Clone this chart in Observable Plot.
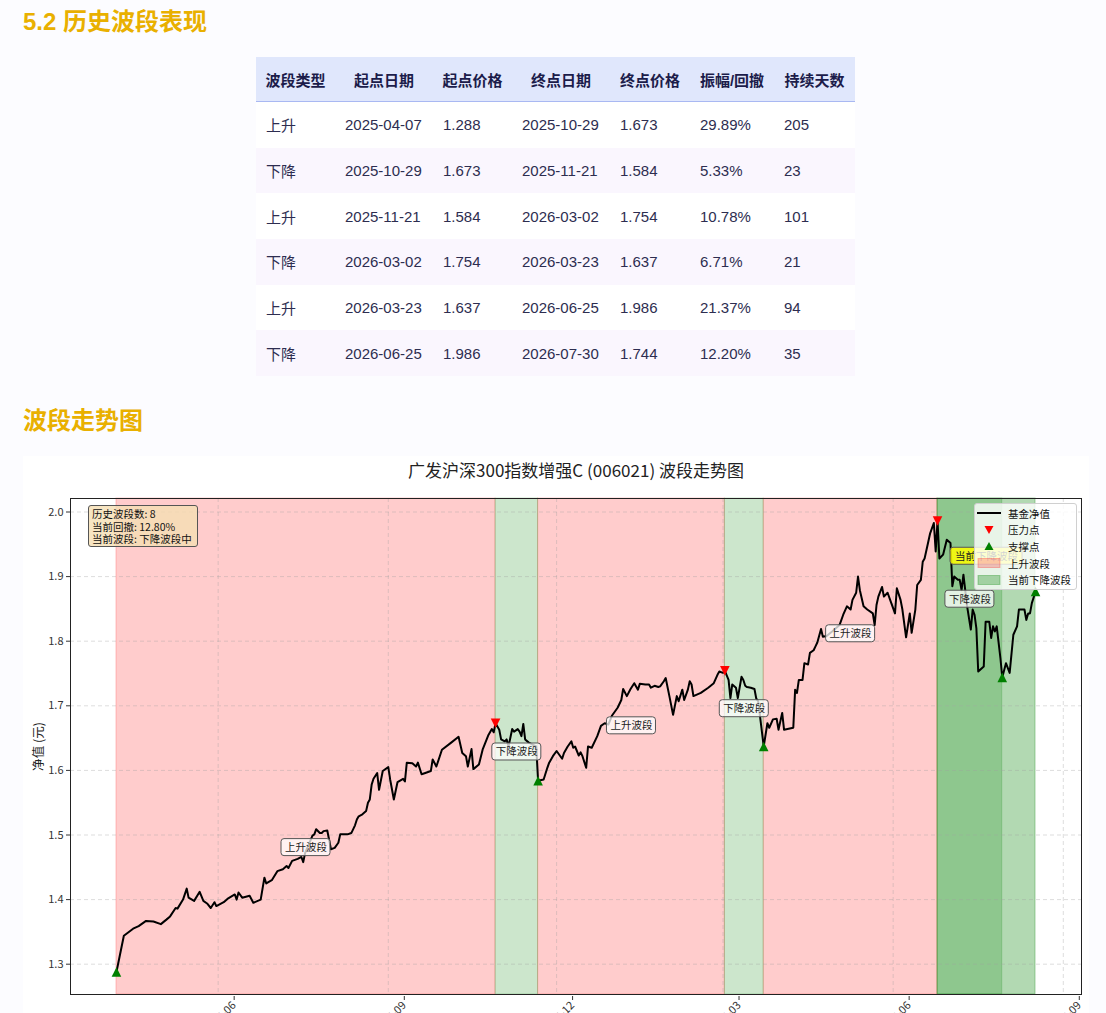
<!DOCTYPE html>
<html><head><meta charset="utf-8">
<script src="https://cdn.jsdelivr.net/npm/d3@7"></script>
<script src="https://cdn.jsdelivr.net/npm/@observablehq/plot@0.6"></script>
<style>
html,body{margin:0;padding:0;background:#fcfcff;}
body{position:relative;width:1106px;height:1013px;overflow:hidden;font-family:"Liberation Sans","Noto Sans CJK SC",sans-serif;}
h2{position:absolute;left:23px;margin:0;font-size:24px;line-height:24px;font-weight:bold;color:#e9b000;font-family:"Liberation Sans","Noto Sans CJK SC",sans-serif;}
#h2a{top:10px;} #h2b{top:409px;}
table{position:absolute;left:256px;top:57px;border-collapse:collapse;table-layout:fixed;width:599px;font-size:15px;}
th{height:44px;background:#e0e7fc;color:#1c1c4a;font-weight:bold;text-align:center;padding:0;border-bottom:1px solid #a9b8f2;}
td{height:45.7px;padding:0 10px;color:#2d2d50;text-align:left;background:#fff;}
tbody tr:nth-child(even) td{background:#faf6fe;}
#chart{position:absolute;left:23px;top:456px;width:1066px;height:600px;background:#fff;}
#chart > svg{position:absolute;left:0;top:0;}
.info{position:absolute;left:65px;top:49px;width:105px;height:38px;padding:2px 0 0 3px;background:rgba(245,222,179,0.8);border:1px solid #555;border-radius:3px;font-family:"Noto Sans CJK SC",sans-serif;font-size:10.5px;line-height:12.5px;color:#111;}
.legend{position:absolute;left:951px;top:47px;width:101px;height:84px;padding-top:1px;background:rgba(255,255,255,0.8);border:1px solid #d0d0d0;border-radius:3px;font-family:"Noto Sans CJK SC",sans-serif;font-size:10.5px;color:#111;}
.legend .row{height:16.6px;display:flex;align-items:center;}
.legend .row svg{width:30px;height:12px;flex:none;margin-right:3px;display:block;}
</style>
</head><body>
<h2 id="h2a"></h2>
<table id="tbl"><thead><tr></tr></thead><tbody></tbody></table>
<h2 id="h2b"></h2>
<div id="chart"></div>
<script>
// ---------- text ----------
const heading1 = "5.2 历史波段表现";
const heading2 = "波段走势图";
const chartTitle = "广发沪深300指数增强C (006021) 波段走势图";
const yLabel = "净值 (元)";
const infoLines = ["历史波段数: 8", "当前回撤: 12.80%", "当前波段: 下降波段中"];
const legendLabels = ["基金净值", "压力点", "支撑点", "上升波段", "当前下降波段"];
const currentLabelText = "当前下降波段";

// ---------- table data ----------
const tableHeaders = ["波段类型","起点日期","起点价格","终点日期","终点价格","振幅/回撤","持续天数"];
const segType = ["上升","下降","上升","下降","上升","下降"];
const segStartDate = ["2025-04-07","2025-10-29","2025-11-21","2026-03-02","2026-03-23","2026-06-25"];
const segStartPrice = [1.288,1.673,1.584,1.754,1.637,1.986];
const segEndDate = ["2025-10-29","2025-11-21","2026-03-02","2026-03-23","2026-06-25","2026-07-30"];
const segEndPrice = [1.673,1.584,1.754,1.637,1.986,1.744];
const segAmplitude = ["29.89%","5.33%","10.78%","6.71%","21.37%","12.20%"];
const segDays = [205,23,101,21,94,35];

// ---------- current segment ----------
const currentStartDate = "2026-06-25", currentStartPrice = 1.986;
const currentEndDate = "2026-08-17", currentEndPrice = 1.877;

// ---------- key points ----------
const pressureDates = ["2025-10-29","2026-03-02","2026-06-25"];
const pressureValues = [1.673,1.754,1.986];
const supportDates = ["2025-04-07","2025-11-21","2026-03-23","2026-07-30","2026-08-17"];
const supportValues = [1.288,1.584,1.637,1.744,1.877];

// ---------- axis ticks ----------
const xTicks = ["2025-06-01","2025-09-01","2025-12-01","2026-03-01","2026-06-01","2026-09-01"];
const yTicks = [1.3,1.4,1.5,1.6,1.7,1.8,1.9,2.0];

// ---------- NAV series ----------
const navDates = [
"2025-04-07","2025-04-11","2025-04-16","2025-04-19","2025-04-23","2025-04-27","2025-05-01","2025-05-04","2025-05-06","2025-05-09",
"2025-05-10","2025-05-13","2025-05-15","2025-05-16","2025-05-19","2025-05-22","2025-05-24","2025-05-26","2025-05-28","2025-05-30",
"2025-05-31","2025-06-04","2025-06-06","2025-06-10","2025-06-11","2025-06-12","2025-06-14","2025-06-18","2025-06-20","2025-06-24",
"2025-06-26","2025-06-27","2025-06-30","2025-07-03","2025-07-06","2025-07-08","2025-07-09","2025-07-11","2025-07-14","2025-07-16",
"2025-07-17","2025-07-18","2025-07-22","2025-07-23","2025-07-24","2025-07-26","2025-07-27","2025-07-28","2025-07-30","2025-08-01",
"2025-08-03","2025-08-05","2025-08-06","2025-08-10","2025-08-12","2025-08-14","2025-08-15","2025-08-16","2025-08-18","2025-08-20",
"2025-08-21","2025-08-22","2025-08-23","2025-08-24","2025-08-26","2025-08-27","2025-08-29","2025-09-01","2025-09-02","2025-09-04",
"2025-09-06","2025-09-09","2025-09-10","2025-09-11","2025-09-14","2025-09-16","2025-09-17","2025-09-19","2025-09-21","2025-09-24",
"2025-09-25","2025-09-27","2025-09-30","2025-10-05","2025-10-09","2025-10-11","2025-10-13","2025-10-14","2025-10-16","2025-10-17",
"2025-10-20","2025-10-22","2025-10-25","2025-10-27","2025-10-28","2025-10-29","2025-10-31","2025-11-01","2025-11-03","2025-11-04",
"2025-11-05","2025-11-07","2025-11-08","2025-11-10","2025-11-11","2025-11-12","2025-11-13","2025-11-14","2025-11-16","2025-11-18",
"2025-11-20","2025-11-21","2025-11-24","2025-11-26","2025-11-27","2025-11-29","2025-12-01","2025-12-04","2025-12-05","2025-12-07",
"2025-12-09","2025-12-10","2025-12-11","2025-12-13","2025-12-14","2025-12-15","2025-12-17","2025-12-18","2025-12-20","2025-12-23",
"2025-12-25","2025-12-27","2025-12-29","2025-12-31","2026-01-03","2026-01-05","2026-01-06","2026-01-08","2026-01-10","2026-01-12",
"2026-01-14","2026-01-15","2026-01-18","2026-01-20","2026-01-21","2026-01-23","2026-01-25","2026-01-26","2026-01-28","2026-01-29",
"2026-01-31","2026-02-02","2026-02-04","2026-02-05","2026-02-07","2026-02-08","2026-02-10","2026-02-11","2026-02-12","2026-02-13",
"2026-02-17","2026-02-21","2026-02-24","2026-02-26","2026-02-27","2026-03-01","2026-03-02","2026-03-04","2026-03-05","2026-03-06",
"2026-03-08","2026-03-09","2026-03-11","2026-03-12","2026-03-13","2026-03-14","2026-03-16","2026-03-18","2026-03-19","2026-03-20",
"2026-03-21","2026-03-23","2026-03-25","2026-03-26","2026-03-28","2026-03-30","2026-03-31","2026-04-02","2026-04-03","2026-04-08",
"2026-04-09","2026-04-10","2026-04-11","2026-04-13","2026-04-14","2026-04-16","2026-04-17","2026-04-19","2026-04-20","2026-04-21",
"2026-04-23","2026-04-24","2026-04-26","2026-04-29","2026-05-03","2026-05-05","2026-05-07","2026-05-09","2026-05-10","2026-05-12",
"2026-05-13","2026-05-14","2026-05-16","2026-05-18","2026-05-21","2026-05-22","2026-05-23","2026-05-24","2026-05-26","2026-05-27",
"2026-05-29","2026-05-31","2026-06-02","2026-06-03","2026-06-05","2026-06-06","2026-06-08","2026-06-10","2026-06-11","2026-06-13",
"2026-06-14","2026-06-16","2026-06-17","2026-06-18","2026-06-20","2026-06-21","2026-06-23","2026-06-24","2026-06-25","2026-06-26",
"2026-06-28","2026-06-30","2026-07-02","2026-07-03","2026-07-04","2026-07-06","2026-07-07","2026-07-08","2026-07-09","2026-07-11",
"2026-07-13","2026-07-14","2026-07-15","2026-07-16","2026-07-17","2026-07-20","2026-07-21","2026-07-23","2026-07-24","2026-07-25",
"2026-07-26","2026-07-27","2026-07-29","2026-07-30","2026-08-01","2026-08-03","2026-08-05","2026-08-07","2026-08-08","2026-08-11",
"2026-08-12","2026-08-13","2026-08-14","2026-08-15","2026-08-17"];
const navValues = [
1.288,1.344,1.355,1.359,1.367,1.366,1.362,1.369,1.374,1.387,
1.386,1.400,1.417,1.403,1.398,1.412,1.398,1.394,1.387,1.396,
1.390,1.396,1.401,1.408,1.400,1.411,1.403,1.406,1.395,1.400,
1.434,1.425,1.430,1.444,1.447,1.452,1.449,1.460,1.463,1.466,
1.458,1.472,1.499,1.501,1.509,1.503,1.503,1.506,1.507,1.478,
1.480,1.488,1.501,1.501,1.503,1.515,1.524,1.529,1.532,1.537,
1.550,1.555,1.578,1.587,1.596,1.570,1.599,1.605,1.586,1.555,
1.582,1.587,1.583,1.612,1.611,1.606,1.612,1.594,1.596,1.599,
1.617,1.606,1.632,1.643,1.652,1.627,1.622,1.606,1.633,1.602,
1.609,1.632,1.654,1.664,1.659,1.673,1.663,1.648,1.645,1.648,
1.637,1.664,1.660,1.664,1.660,1.653,1.672,1.648,1.643,1.640,
1.637,1.584,1.586,1.604,1.612,1.622,1.630,1.618,1.627,1.637,
1.645,1.635,1.637,1.623,1.628,1.622,1.604,1.637,1.635,1.653,
1.669,1.673,1.671,1.685,1.697,1.709,1.726,1.715,1.726,1.735,
1.725,1.734,1.733,1.733,1.728,1.731,1.729,1.730,1.738,1.743,
1.715,1.686,1.715,1.707,1.725,1.709,1.725,1.738,1.733,1.715,
1.720,1.728,1.735,1.748,1.753,1.751,1.754,1.740,1.712,1.733,
1.728,1.712,1.745,1.740,1.731,1.729,1.728,1.726,1.711,1.707,
1.684,1.637,1.673,1.666,1.679,1.680,1.663,1.689,1.663,1.666,
1.725,1.720,1.740,1.740,1.766,1.764,1.782,1.786,1.792,1.798,
1.819,1.807,1.808,1.815,1.825,1.841,1.854,1.849,1.864,1.875,
1.900,1.879,1.854,1.849,1.843,1.825,1.856,1.869,1.884,1.869,
1.875,1.859,1.843,1.882,1.864,1.849,1.806,1.843,1.813,1.849,
1.887,1.895,1.923,1.928,1.954,1.967,1.983,1.939,1.986,1.928,
1.934,1.957,1.952,1.885,1.900,1.895,1.895,1.879,1.903,1.854,
1.818,1.849,1.841,1.820,1.753,1.761,1.830,1.830,1.805,1.823,
1.815,1.823,1.774,1.744,1.766,1.751,1.810,1.823,1.849,1.849,
1.833,1.843,1.843,1.859,1.877];

// ---------- headings & table ----------
document.getElementById("h2a").textContent = heading1;
document.getElementById("h2b").textContent = heading2;
const headRow = d3.select("#tbl thead tr");
tableHeaders.forEach(h => headRow.append("th").text(h));
const colWidths = [79,98,79,98,80,84,81];
d3.select("#tbl").insert("colgroup","thead").selectAll("col").data(colWidths).join("col").style("width", d => d + "px");
const tbody = d3.select("#tbl tbody");
segType.forEach((t, i) => {
  const tr = tbody.append("tr");
  [t, segStartDate[i], segStartPrice[i].toFixed(3), segEndDate[i], segEndPrice[i].toFixed(3), segAmplitude[i], String(segDays[i])]
    .forEach(v => tr.append("td").text(v));
});

// ---------- chart ----------
const parse = d3.utcParse("%Y-%m-%d");
const nav = navDates.map((d, i) => ({date: parse(d), value: navValues[i]}));
const segs = segType.map((t, i) => ({type: t, start: parse(segStartDate[i]), end: parse(segEndDate[i]), p0: segStartPrice[i], p1: segEndPrice[i]}));
const ups = segs.filter(s => s.type === "上升");
const downs = segs.filter(s => s.type === "下降");
const segLabels = segs.map(s => ({date: new Date((+s.start + +s.end) / 2), price: (s.p0 + s.p1) / 2, text: s.type + "波段"}));
const cur = {start: parse(currentStartDate), end: parse(currentEndDate)};
const curLabel = [{date: new Date((+cur.start + +cur.end) / 2), price: (currentStartPrice + currentEndPrice) / 2, text: currentLabelText}];
const pressure = pressureDates.map((d, i) => ({date: parse(d), value: pressureValues[i]}));
const support = supportDates.map((d, i) => ({date: parse(d), value: supportValues[i]}));

const [xd0, xd1] = d3.extent(nav, d => d.date);
const padX = (xd1 - xd0) * 0.05;
const [yv0, yv1] = d3.extent(nav, d => d.value);
const padY = (yv1 - yv0) * 0.05;

const triDown = {draw(ctx, size) { const a = Math.sqrt(size / Math.PI); ctx.moveTo(0, a); ctx.lineTo(-a, -a); ctx.lineTo(a, -a); ctx.closePath(); }};
const triUp = {draw(ctx, size) { const a = Math.sqrt(size / Math.PI); ctx.moveTo(0, -a); ctx.lineTo(-a, a); ctx.lineTo(a, a); ctx.closePath(); }};

const gridStyle = {stroke: "#a0a0a0", strokeOpacity: 0.45, strokeDasharray: "4,3", strokeWidth: 0.8};

const chart = Plot.plot({
  width: 1066, height: 598,
  marginTop: 42, marginRight: 8, marginBottom: 60, marginLeft: 47,
  x: {type: "utc", domain: [new Date(+xd0 - padX), new Date(+xd1 + padX)]},
  y: {domain: [yv0 - padY, yv1 + padY]},
  style: {background: "transparent", fontFamily: '"Noto Sans CJK SC", sans-serif', fontSize: "11px", color: "#222", overflow: "visible"},
  marks: [
    Plot.rect(ups, {x1: "start", x2: "end", fill: "red", fillOpacity: 0.2, stroke: "red", strokeOpacity: 0.2}),
    Plot.rect(downs, {x1: "start", x2: "end", fill: "green", fillOpacity: 0.2, stroke: "green", strokeOpacity: 0.2}),
    Plot.rect([cur], {x1: "start", x2: "end", fill: "green", fillOpacity: 0.3, stroke: "green", strokeOpacity: 0.3}),
    Plot.gridX(xTicks.map(parse), gridStyle),
    Plot.gridY(yTicks, gridStyle),
    Plot.line(nav, {x: "date", y: "value", stroke: "black", strokeWidth: 2}),
    Plot.dot(pressure, {x: "date", y: "value", symbol: triDown, r: 4.8, fill: "red", stroke: null}),
    Plot.dot(support, {x: "date", y: "value", symbol: triUp, r: 4.8, fill: "green", stroke: null}),
    Plot.rect(segLabels, {x1: "date", x2: "date", y1: "price", y2: "price", insetLeft: -24.5, insetRight: -24.5, insetTop: -8.5, insetBottom: -8.5, rx: 3, fill: "white", fillOpacity: 0.75, stroke: "#555", strokeWidth: 1}),
    Plot.text(segLabels, {x: "date", y: "price", text: "text", fontSize: 10.5, fill: "#222"}),
    Plot.rect(curLabel, {x1: "date", x2: "date", y1: "price", y2: "price", insetLeft: -36, insetRight: -36, insetTop: -8.5, insetBottom: -8.5, rx: 3, fill: "yellow", fillOpacity: 0.85, stroke: "#555", strokeWidth: 1}),
    Plot.text(curLabel, {x: "date", y: "price", text: "text", fontSize: 10.5, fill: "#222"}),
    Plot.frame({stroke: "#222", strokeWidth: 1}),
    Plot.axisY({ticks: yTicks, tickFormat: d3.format(".1f"), tickSize: 4, tickPadding: 3, fontSize: 11, label: null, color: "#333"}),
    Plot.axisX({ticks: xTicks.map(parse), tickFormat: d3.utcFormat("%Y-%m"), tickSize: 4, tickPadding: 3, tickRotate: -45, textAnchor: "end", dx: 16, dy: 2, fontSize: 11, label: null, color: "#333"}),
    Plot.text([chartTitle], {text: d => d, frameAnchor: "top", dy: -27, fontSize: 17, textAnchor: "middle", lineAnchor: "middle", fill: "#222"}),
    Plot.text([yLabel], {text: d => d, frameAnchor: "left", dx: -32, rotate: -90, fontSize: 12.5, textAnchor: "middle", lineAnchor: "middle", fill: "#222"})
  ]
});
const box = document.getElementById("chart");
box.appendChild(chart);

// info box
const info = document.createElement("div");
info.className = "info";
info.innerHTML = infoLines.map(s => `<div>${s}</div>`).join("");
box.appendChild(info);

// legend
const legendSyms = [
  `<svg viewBox="0 0 30 12"><line x1="2" x2="26" y1="6" y2="6" stroke="black" stroke-width="2"/></svg>`,
  `<svg viewBox="0 0 30 12"><path d="M9.5,2 L18.5,2 L14,10 Z" fill="red"/></svg>`,
  `<svg viewBox="0 0 30 12"><path d="M9.5,10 L18.5,10 L14,2 Z" fill="green"/></svg>`,
  `<svg viewBox="0 0 30 12"><rect x="3" y="1.5" width="22" height="9" fill="red" fill-opacity="0.22" stroke="red" stroke-opacity="0.25"/></svg>`,
  `<svg viewBox="0 0 30 12"><rect x="3" y="1.5" width="22" height="9" fill="green" fill-opacity="0.3" stroke="green" stroke-opacity="0.3"/></svg>`
];
const legend = document.createElement("div");
legend.className = "legend";
legend.innerHTML = legendLabels.map((l, i) => `<div class="row">${legendSyms[i]}<span>${l}</span></div>`).join("");
box.appendChild(legend);
</script>
</body></html>
